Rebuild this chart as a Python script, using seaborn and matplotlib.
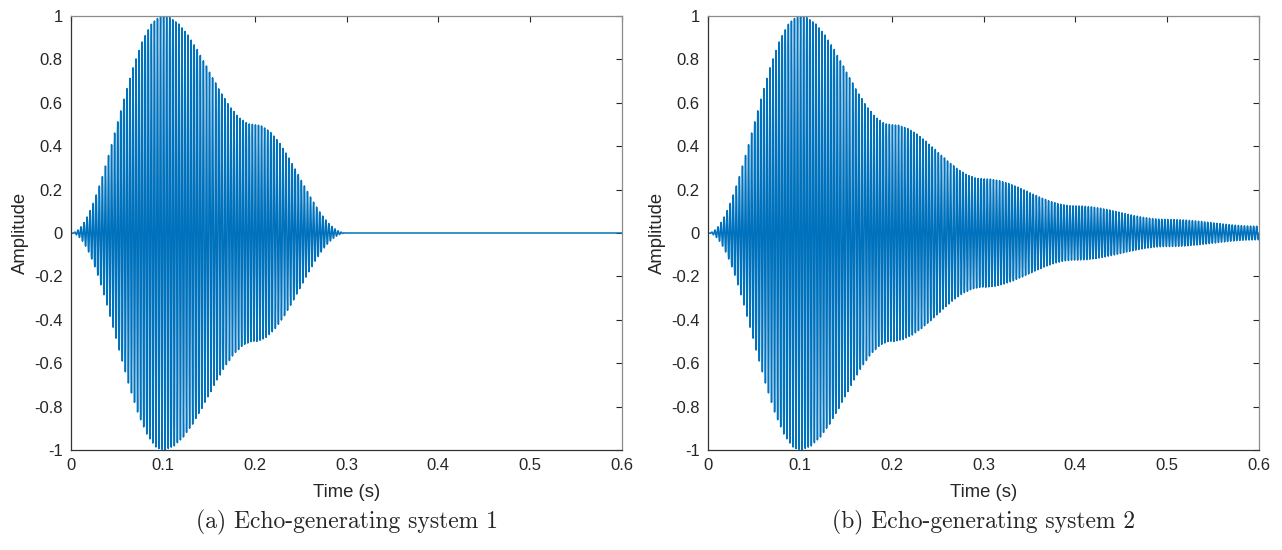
import numpy as np
import pandas as pd
import matplotlib
matplotlib.use("Agg")
import matplotlib.pyplot as plt
import seaborn as sns

# signal parameters
fs = 8000            # sampling rate (Hz)
f_carrier = 300      # carrier frequency (Hz)
pulse_len = 0.2      # Hann-windowed pulse, 0 .. 0.2 s
echo_delay = 0.1     # echo delay (s)
echo_gain = 0.5      # echo attenuation
t_end = 0.6

x_ticks = [0, 0.1, 0.2, 0.3, 0.4, 0.5, 0.6]
y_ticks = [-1, -0.8, -0.6, -0.4, -0.2, 0, 0.2, 0.4, 0.6, 0.8, 1]
captions = ["(a) Echo-generating system 1", "(b) Echo-generating system 2"]

t = np.arange(0, t_end + 1 / fs, 1 / fs)
n_pulse = int(pulse_len * fs)
x = np.zeros_like(t)
win = np.hanning(n_pulse + 1)
x[:n_pulse + 1] = win * np.sin(2 * np.pi * f_carrier * t[:n_pulse + 1])

d = int(echo_delay * fs)
# system 1: y[n] = x[n] + a x[n-d]
y1 = x.copy()
y1[d:] += echo_gain * x[:-d]
# system 2: y[n] = x[n] + a y[n-d]
y2 = x.copy()
for n in range(d, len(t)):
    y2[n] += echo_gain * y2[n - d]

df1 = pd.DataFrame({"time": t, "amp": y1})
df2 = pd.DataFrame({"time": t, "amp": y2})

sns.set_style("white")
plt.rcParams["font.family"] = ["Liberation Sans", "DejaVu Sans"]

fig = plt.figure(figsize=(12.82, 5.5), dpi=100)
ax1 = fig.add_axes([71 / 1282, 100 / 550, 551 / 1282, 434 / 550])
ax2 = fig.add_axes([708 / 1282, 100 / 550, 551 / 1282, 434 / 550])

for ax, df, cap in [(ax1, df1, captions[0]), (ax2, df2, captions[1])]:
    sns.lineplot(data=df, x="time", y="amp", ax=ax, color="#0072BD",
                 linewidth=1.1, estimator=None, errorbar=None)
    ax.set_xlim(0, 0.6)
    ax.set_ylim(-1, 1)
    ax.set_xticks(x_ticks)
    ax.set_yticks(y_ticks)
    ax.set_xticklabels([f"{v:g}" for v in x_ticks])
    ax.set_yticklabels([f"{v:g}" for v in y_ticks])
    ax.tick_params(direction="in", length=4, width=0.8, labelsize=12,
                   colors="#262626", pad=6)
    ax.tick_params(axis="both", which="both", top=True, right=True,
                   labeltop=False, labelright=False)
    ax.set_xlabel("Time (s)", fontsize=13.3, color="#262626", labelpad=8)
    ax.set_ylabel("Amplitude", fontsize=13.3, color="#262626", labelpad=4)
    for s in ["left", "bottom"]:
        ax.spines[s].set_color("#333333")
        ax.spines[s].set_linewidth(0.9)
    for s in ["top", "right"]:
        ax.spines[s].set_color("#8c8c8c")
        ax.spines[s].set_linewidth(0.9)
    ax.text(0.5, -0.166, cap, transform=ax.transAxes, ha="center", va="center",
            fontsize=17, family=["cmr10", "DejaVu Serif"])

fig.savefig("out.png", dpi=100)
